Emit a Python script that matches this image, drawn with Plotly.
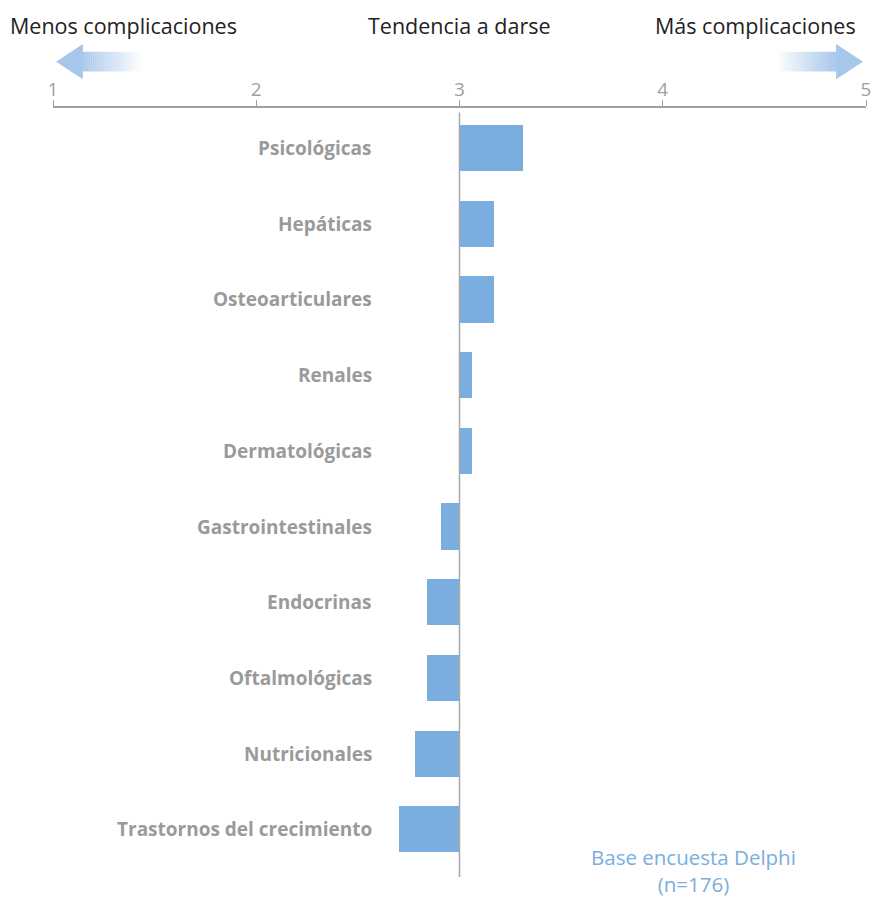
import plotly.graph_objects as go

# Tendencia media por tipo de complicación (escala 1-5, punto neutro 3)
categorias = [
    "Psicológicas", "Hepáticas", "Osteoarticulares", "Renales", "Dermatológicas",
    "Gastrointestinales", "Endocrinas", "Oftalmológicas", "Nutricionales",
    "Trastornos del crecimiento",
]
valores = [3.31, 3.17, 3.17, 3.06, 3.06, 2.91, 2.84, 2.84, 2.78, 2.70]
neutro = 3
ticks = [1, 2, 3, 4, 5]

BLUE = "#7aaede"
GRAY = "#9a9a9a"
ARROW = "#a6c6ea"
FONT = "Open Sans"

fig = go.Figure()
fig.add_trace(go.Bar(
    y=categorias,
    x=[v - neutro for v in valores],
    base=neutro,
    orientation="h",
    marker=dict(color=BLUE, line=dict(width=0)),
    width=0.61,
    hoverinfo="skip",
))

# Etiquetas de categoría, alineadas a la derecha del eje neutro
for c in categorias:
    fig.add_annotation(
        x=neutro, y=c, xref="x", yref="y", text=f"<b>{c}</b>",
        showarrow=False, xanchor="right", xshift=-86,
        font=dict(family=FONT, size=19, color=GRAY),
    )

# Línea del valor neutro
fig.add_shape(type="line", xref="x", yref="paper", x0=neutro, x1=neutro,
              y0=0, y1=0.994, line=dict(color="#a8a8a8", width=1.5))

# Flechas con degradado (cuerpo en franjas de opacidad decreciente)
def flecha(x_tip, x_head, x_end, n=30):
    y_mid, body_h, head_h = 1.0603, 0.0128, 0.0228
    fig.add_shape(type="path", xref="x", yref="paper",
                  path=(f"M {x_tip},{y_mid} L {x_head},{y_mid + head_h} "
                        f"L {x_head},{y_mid - head_h} Z"),
                  fillcolor=ARROW, line=dict(width=0), layer="above")
    for i in range(n):
        xa = x_head + (x_end - x_head) * i / n
        xb = x_head + (x_end - x_head) * (i + 1) / n
        fig.add_shape(type="rect", xref="x", yref="paper",
                      x0=xa, x1=xb, y0=y_mid - body_h, y1=y_mid + body_h,
                      fillcolor=ARROW, opacity=1 - (i + 0.5) / n,
                      line=dict(width=0), layer="above")

flecha(1.015, 1.147, 1.437)
flecha(4.985, 4.853, 4.557)

top_font = dict(family=FONT, size=21.5, color="#222222")
fig.add_annotation(x=0, xref="paper", xshift=-45, y=1.107, yref="paper",
                   text="Menos complicaciones", showarrow=False,
                   xanchor="left", yanchor="middle", font=top_font)
fig.add_annotation(x=neutro, xref="x", y=1.107, yref="paper",
                   text="Tendencia a darse", showarrow=False,
                   xanchor="center", yanchor="middle", font=top_font)
fig.add_annotation(x=1, xref="paper", xshift=-8, y=1.107, yref="paper",
                   text="Más complicaciones", showarrow=False,
                   xanchor="right", yanchor="middle", font=top_font)

fig.add_annotation(x=4.15, xref="x", y=0.008, yref="paper",
                   text="Base encuesta Delphi<br>(n=176)", showarrow=False,
                   xanchor="center", yanchor="middle",
                   font=dict(family=FONT, size=20.5, color=BLUE))

fig.update_layout(
    width=875, height=897,
    margin=dict(l=53, r=9, t=108, b=20),
    paper_bgcolor="white", plot_bgcolor="white",
    showlegend=False,
    bargap=0,
    xaxis=dict(
        side="top", range=[1, 5], tickvals=ticks, ticktext=[str(t) for t in ticks],
        showgrid=False, zeroline=False, showline=True, linecolor="#a0a0a0",
        linewidth=1.5, ticks="outside", ticklen=6, tickcolor="#a0a0a0",
        tickwidth=1, tickfont=dict(family=FONT, size=19, color="#a0a0a0"),
        ticklabelstandoff=-3, automargin=False, fixedrange=True,
    ),
    yaxis=dict(
        type="category", categoryorder="array", categoryarray=categorias,
        range=[9.63, -0.53], showticklabels=False, showgrid=False,
        zeroline=False, showline=False, ticks="", fixedrange=True,
    ),
)

fig.write_html("out.html")
